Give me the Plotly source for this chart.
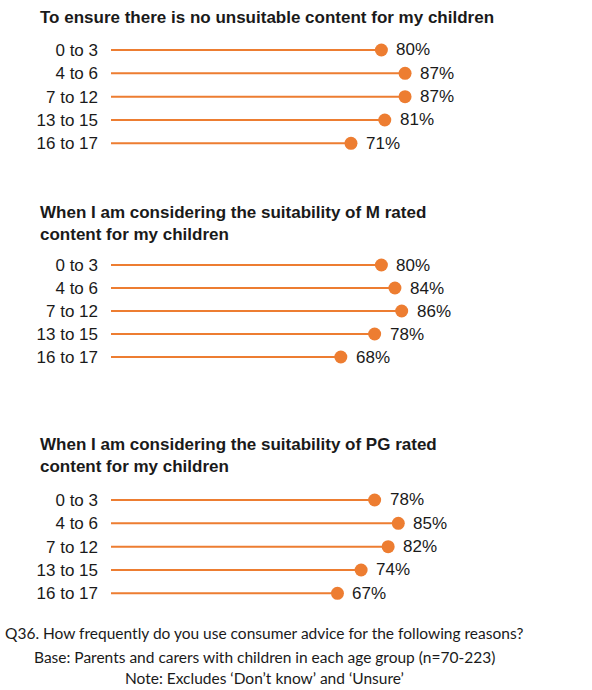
import plotly.graph_objects as go

# Age groups of children (rows in every panel)
age_groups = ["0 to 3", "4 to 6", "7 to 12", "13 to 15", "16 to 17"]

# Share of parents/carers using consumer advice for each reason (%)
no_unsuitable = [80, 87, 87, 81, 71]
m_rated = [80, 84, 86, 78, 68]
pg_rated = [78, 85, 82, 74, 67]

panel_titles = [
    "To ensure there is no unsuitable content for my children",
    "When I am considering the suitability of M rated<br>content for my children",
    "When I am considering the suitability of PG rated<br>content for my children",
]

footer_lines = [
    "Q36. How frequently do you use consumer advice for the following reasons?",
    "Base: Parents and carers with children in each age group (n=70-223)",
    "Note: Excludes \u2018Don\u2019t know\u2019 and \u2018Unsure\u2019",
]

W, H = 592, 690
ORANGE = "#ED7D31"
TEXT = "#1a1a1a"
FONT = "Liberation Sans, Arial, sans-serif"


def px_x(p):
    return p / W


def px_y(p):
    return 1 - p / H


# pixel layout of each panel: (title centre y, first row y, last row y)
panels = [
    (no_unsuitable, panel_titles[0], 18, 50, 143.3),
    (m_rated, panel_titles[1], 223.5, 265, 357),
    (pg_rated, panel_titles[2], 455, 500, 593.3),
]

x_left, x_right = 111, 449  # 0% and 100% positions

fig = go.Figure()
annotations = []
layout_axes = {}

for k, (values, title, title_y, row0, row4) in enumerate(panels, start=1):
    xa = "x" if k == 1 else f"x{k}"
    ya = "y" if k == 1 else f"y{k}"
    step = (row4 - row0) / 4
    top = row0 - step / 2
    bottom = row4 + step / 2

    # stems
    lx, ly = [], []
    for i, v in enumerate(values):
        lx += [0, v, None]
        ly += [i, i, None]
    fig.add_trace(go.Scatter(
        x=lx, y=ly, mode="lines", xaxis=xa, yaxis=ya,
        line=dict(color=ORANGE, width=2), hoverinfo="skip", showlegend=False,
    ))
    # dots
    fig.add_trace(go.Scatter(
        x=values, y=list(range(len(values))), mode="markers", xaxis=xa, yaxis=ya,
        marker=dict(color=ORANGE, size=13), showlegend=False,
    ))
    # value labels
    for i, v in enumerate(values):
        annotations.append(dict(
            x=v, y=i, xref=xa, yref=ya, text=f"{v}%", showarrow=False,
            xanchor="left", yanchor="middle", xshift=13,
            font=dict(family=FONT, size=17, color=TEXT),
        ))
    # panel title
    annotations.append(dict(
        x=px_x(38), y=px_y(title_y), xref="paper", yref="paper",
        text=f"<b>{title}</b>", showarrow=False, align="left",
        xanchor="left", yanchor="middle",
        font=dict(family=FONT, size=17, color=TEXT),
    ))

    sfx = "" if k == 1 else str(k)
    layout_axes[f"xaxis{sfx}"] = dict(
        domain=[px_x(x_left), px_x(x_right)], range=[0, 100],
        anchor=ya, visible=False, fixedrange=True,
    )
    layout_axes[f"yaxis{sfx}"] = dict(
        domain=[px_y(bottom), px_y(top)], range=[4.5, -0.5],
        anchor=xa, tickmode="array", tickvals=list(range(5)), ticktext=age_groups,
        showgrid=False, zeroline=False, showline=False, ticks="",
        ticklabelstandoff=12,
        tickfont=dict(family=FONT, size=17, color=TEXT), fixedrange=True,
    )

# footnotes
for y, line in zip([633.3, 656.7, 678.3], footer_lines):
    annotations.append(dict(
        x=px_x(264), y=px_y(y), xref="paper", yref="paper", text=line,
        showarrow=False, xanchor="center", yanchor="middle",
        font=dict(family="Lato, Carlito, Calibri, sans-serif", size=15.5, color=TEXT),
    ))

fig.update_layout(
    width=W, height=H, margin=dict(l=0, r=0, t=0, b=0),
    paper_bgcolor="white", plot_bgcolor="white",
    annotations=annotations, **layout_axes,
)

fig.write_html("out.html")
